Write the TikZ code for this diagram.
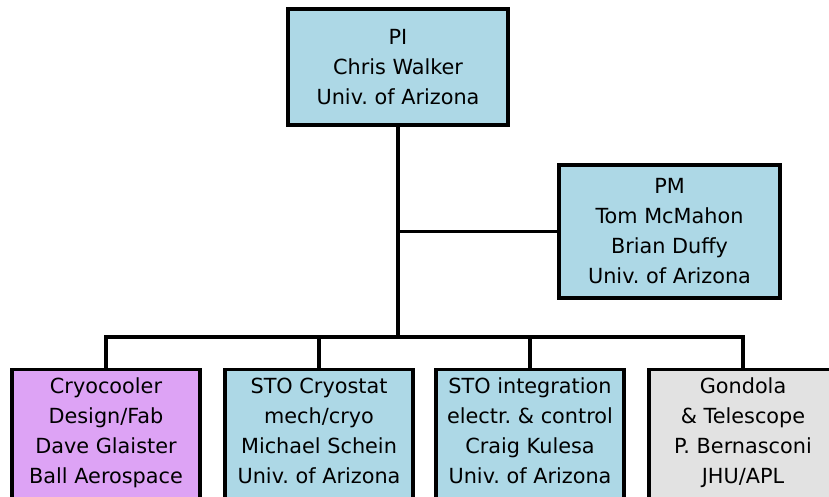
\documentclass[tikz,border=0pt]{standalone}
\usepackage{fontspec}
\setmainfont{DejaVu Sans}
\usetikzlibrary{positioning, calc}
\definecolor{teamblue}{RGB}{173,216,230}
\definecolor{teampurple}{RGB}{221,163,245}
\definecolor{teamgray}{RGB}{226,226,226}
\frenchspacing

\begin{document}
\begin{tikzpicture}[x=1pt, y=1pt,
    unit/.style={draw, line width=3.4pt, align=center, inner sep=8pt,
      font=\fontsize{20.8}{30}\selectfont},
    subunit/.style={unit, minimum width=188pt, text depth=110pt, anchor=north},
    lead/.style={line width=3.2pt}]
  \useasboundingbox (0,0) rectangle (829,496);
  \clip (0,0) rectangle (829,496);

  % management
  \node[unit, fill=teamblue, minimum width=220pt, minimum height=116pt] (pi) at (398,429) {PI\\Chris Walker\\Univ. of Arizona};
  \node[unit, fill=teamblue, minimum width=221pt, minimum height=133pt] (pm) at (669.5,264.5) {PM\\Tom McMahon\\Brian Duffy\\Univ. of Arizona};
  \coordinate (bus) at (398,159);

  % subsystems
  \node[subunit, fill=teampurple] (cryo) at (106,128) {Cryocooler\\Design/Fab\\Dave Glaister\\Ball Aerospace};
  \node[subunit, fill=teamblue] (cryostat) at (319,128) {STO Cryostat\\mech/cryo\\Michael Schein\\Univ. of Arizona};
  \node[subunit, fill=teamblue] (integ) at (530,128) {STO integration\\electr. \& control\\Craig Kulesa\\Univ. of Arizona};
  \node[subunit, fill=teamgray] (gondola) at (743,128) {Gondola\\\& Telescope\\P. Bernasconi\\JHU/APL};

  \draw[lead] (pi.south) -- (bus);
  \draw[lead] (pi.south |- pm.west) -- (pm.west);
  \draw[lead] (cryo.north) |- (bus) -| (gondola.north);
  \draw[lead] (cryostat.north) -- (cryostat.north |- bus);
  \draw[lead] (integ.north) -- (integ.north |- bus);
\end{tikzpicture}
\end{document}
